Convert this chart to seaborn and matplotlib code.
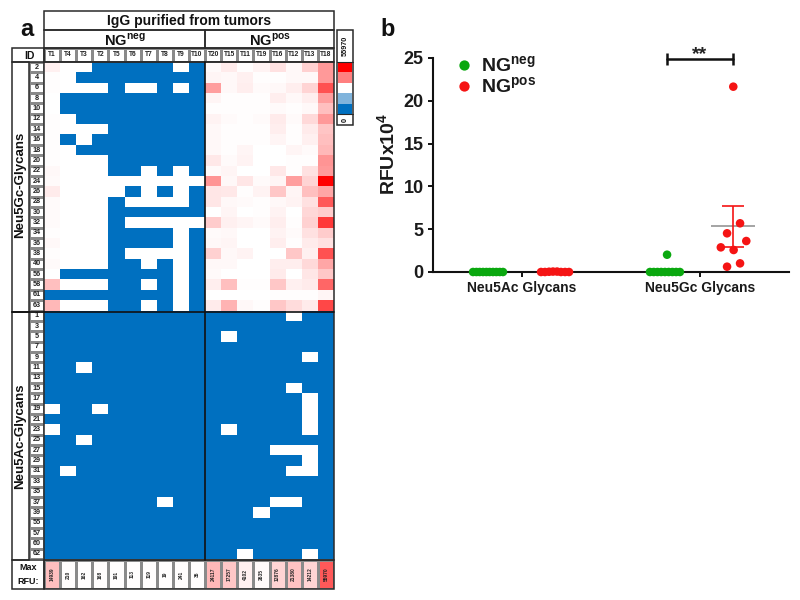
"""
Glycan array heatmap (a) and RFU dot plot (b)
"""
import numpy as np
import pandas as pd
import matplotlib.pyplot as plt
import seaborn as sns
from matplotlib.colors import LinearSegmentedColormap, ListedColormap
from matplotlib.patches import Rectangle


# -----------------------------
# Data
# -----------------------------

B = np.nan  # below threshold, drawn blue

neg_tumors = ["T1", "T4", "T3", "T2", "T5", "T6", "T7", "T8", "T9", "T10"]
pos_tumors = ["T20", "T15", "T11", "T19", "T16", "T12", "T13", "T18"]

gc_ids = [2, 4, 6, 8, 10, 12, 14, 16, 18, 20, 22, 24, 26, 28, 30, 32, 34, 36,
          38, 40, 56, 58, 61, 63]
ac_ids = [1, 3, 5, 7, 9, 11, 13, 15, 17, 19, 21, 23, 25, 27, 29, 31, 33, 35,
          37, 39, 55, 57, 60, 62]

# tint of each cell in percent of full red
gc_neg = [
    [6, 0, 0, B, B, B, B, B, 0, B],
    [1, 0, B, B, B, B, B, B, B, B],
    [1, 0, 0, 0, B, 0, 0, B, 0, B],
    [0, B, B, B, B, B, B, B, B, B],
    [0, B, B, B, B, B, B, B, B, B],
    [1, 0, B, B, B, B, B, B, B, B],
    [1, 0, 0, 0, B, B, B, B, B, B],
    [1, B, 0, B, B, B, B, B, B, B],
    [1, 0, B, B, B, B, B, B, B, B],
    [1, 0, 0, 0, B, B, B, B, B, B],
    [3, 0, 0, 0, B, B, 0, B, 0, B],
    [2, 0, 0, 0, 0, 0, 0, 0, 0, 0],
    [8, 0, 0, 0, 0, B, 0, B, 0, B],
    [2, 0, 0, 0, B, 0, 0, 0, 0, B],
    [2, 0, 0, 0, B, B, B, B, B, B],
    [2, 0, 0, 0, B, 0, 0, 0, 0, 0],
    [1, 0, 0, 0, B, B, B, B, 0, B],
    [3, 0, 0, 0, B, B, B, B, 0, B],
    [1, 0, 0, 0, B, 0, 0, 0, 0, B],
    [2, 0, 0, 0, B, B, 0, B, 0, B],
    [0, B, B, B, B, B, B, B, 0, B],
    [25, 0, 0, 0, B, B, 0, B, 0, B],
    [B, B, B, B, B, B, B, B, 0, B],
    [28, 0, 0, 0, B, B, 0, B, 0, B],
]
gc_pos = [
    [2, 8, 1, 5, 12, 3, 18, 40],
    [4, 3, 6, 1, 1, 3, 3, 40],
    [38, 3, 7, 2, 3, 7, 17, 68],
    [4, 1, 1, 1, 7, 3, 7, 38],
    [1, 1, 1, 1, 2, 1, 3, 25],
    [5, 2, 1, 2, 8, 2, 15, 40],
    [3, 1, 1, 1, 7, 1, 8, 23],
    [3, 1, 1, 1, 4, 1, 6, 25],
    [3, 1, 4, 0, 0, 4, 2, 28],
    [9, 2, 5, 0, 0, 1, 1, 42],
    [2, 4, 0, 0, 9, 1, 12, 40],
    [42, 3, 10, 2, 4, 38, 17, 100],
    [10, 9, 1, 5, 22, 4, 25, 35],
    [10, 3, 2, 1, 3, 5, 12, 65],
    [0, 4, 0, 1, 5, 0, 16, 20],
    [20, 6, 4, 2, 7, 1, 18, 78],
    [2, 3, 0, 0, 5, 2, 12, 20],
    [3, 4, 0, 0, 7, 1, 8, 12],
    [18, 3, 5, 0, 0, 22, 6, 68],
    [3, 3, 0, 0, 7, 7, 15, 35],
    [2, 0, 0, 0, 8, 0, 10, 22],
    [7, 25, 1, 1, 22, 6, 8, 60],
    [0, 0, 0, 0, 1, 1, 1, 4],
    [8, 30, 3, 1, 22, 14, 8, 72],
]

# Neu5Ac rows are blue apart from these white cells
ac_white = {
    1: ["T12"], 5: ["T15"], 9: ["T13"], 11: ["T3"], 15: ["T12"], 17: ["T13"],
    19: ["T1", "T2", "T13"], 21: ["T13"], 23: ["T1", "T15", "T13"], 25: ["T3"],
    27: ["T16", "T12", "T13"], 29: ["T13"], 31: ["T4", "T12", "T13"],
    37: ["T8", "T16", "T12"], 39: ["T19"], 62: ["T11", "T13"],
}

max_rfu = [14939, 210, 162, 168, 191, 113, 119, 19, 241, 35,
           24117, 17257, 4102, 2635, 12876, 21380, 14212, 55970]
max_rfu_tint = [25, 1, 1, 1, 1, 1, 1, 1, 1, 1, 28, 22, 6, 2, 17, 24, 17, 65]

scale_colors = ["#ff0000", "#ff8080", "#ffffff", "#80b4dc", "#0070c0"]

# panel b, x in category units (0 = Neu5Ac, 1 = Neu5Gc)
ac_neg_x = [-0.275, -0.256, -0.238, -0.219, -0.200, -0.182, -0.163, -0.144, -0.125, -0.107]
ac_neg_y = [0, 0, 0, 0, 0, 0, 0, 0, 0, 0]
ac_pos_x = [0.107, 0.129, 0.152, 0.174, 0.197, 0.219, 0.242, 0.264]
ac_pos_y = [0, 0, 0.03, 0.05, 0.05, 0, 0, 0]
gc_neg_x = [-0.281, -0.260, -0.239, -0.218, -0.197, -0.176, -0.155, -0.134, -0.113, -0.185]
gc_neg_y = [0, 0, 0, 0, 0, 0, 0, 0, 0, 2.02]
gc_pos_x = [0.187, 0.225, 0.152, 0.260, 0.117, 0.189, 0.225, 0.152]
gc_pos_y = [21.65, 5.69, 4.52, 3.62, 2.88, 2.57, 1.01, 0.62]

gc_mean = 5.34
gc_err = 2.41

GREEN = "#0aa80f"
RED = "#f51414"
BLUE = "#0070c0"
EDGE = "#2a2a2a"
W, H = 800, 600


def px_axes(fig, left, top, right, bottom, **kwargs):
    # axes placed by reference pixels
    return fig.add_axes([left / W, 1 - bottom / H, (right - left) / W, (bottom - top) / H], **kwargs)


def label_cells(fig, box, labels, size, rotation=0, values=None, cmap=None):
    # a grid of bordered cells holding text
    shape = labels.shape
    ax = px_axes(fig, *box)
    sns.heatmap(
        np.zeros(shape) if values is None else values,
        cmap=cmap if cmap is not None else ListedColormap(["white"]),
        vmin=0, vmax=100, cbar=False,
        annot=labels, fmt="",
        annot_kws={"size": size, "weight": "bold", "color": "#222222", "rotation": rotation},
        linewidths=0.9, linecolor="#8a8a8a",
        xticklabels=False, yticklabels=False, ax=ax,
    )
    return ax


# -----------------------------
# Panel a
# -----------------------------

def make_heatmap(fig):
    tumors = neg_tumors + pos_tumors

    ac_rows = []
    for gid in ac_ids:
        white = ac_white.get(gid, [])
        ac_rows.append([0 if t in white else B for t in tumors])

    matrix = np.vstack([np.hstack([gc_neg, gc_pos]), ac_rows])

    cmap = LinearSegmentedColormap.from_list("rfu", ["#ffffff", "#ff0000"])
    cmap.set_bad(BLUE)

    ax = px_axes(fig, 44, 62, 334, 559)
    sns.heatmap(matrix, cmap=cmap, vmin=0, vmax=100, cbar=False,
                xticklabels=False, yticklabels=False, ax=ax)

    # column names and row ids
    label_cells(fig, (44, 48, 334, 62), np.array([tumors]), 4.8)
    ids = np.array([[str(i)] for i in gc_ids + ac_ids])
    label_cells(fig, (29, 62, 44, 559), ids, 5.2)

    # max RFU row
    label_cells(fig, (44, 560, 334, 589), np.array([[str(v) for v in max_rfu]]), 3.5,
                rotation=90, values=np.array([max_rfu_tint]), cmap=cmap)

    # colour scale
    scale = px_axes(fig, 338, 62, 352, 114)
    sns.heatmap(np.arange(5).reshape(-1, 1), cmap=ListedColormap(scale_colors), cbar=False,
                xticklabels=False, yticklabels=False, ax=scale)

    # frame, group names and headers
    over = px_axes(fig, 0, 0, W, H, zorder=10)
    over.set_xlim(0, W)
    over.set_ylim(H, 0)
    over.axis("off")
    over.patch.set_alpha(0)

    for x, y, w, h in [(44, 11, 290, 19), (44, 30, 161, 18), (205, 30, 129, 18),
                       (12, 48, 32, 14), (44, 48, 290, 14), (12, 62, 17, 250),
                       (12, 312, 17, 248), (12, 560, 32, 29), (44, 560, 290, 29),
                       (44, 62, 290, 498), (337, 30, 16, 95)]:
        over.add_patch(Rectangle((x, y), w, h, fill=False, ec=EDGE, lw=1.1))
    over.plot([205, 205], [62, 560], color="#111111", lw=1.2)
    over.plot([12, 334], [312, 312], color="#111111", lw=1.2)
    over.plot([337, 353], [62, 62], color=EDGE, lw=0.8)
    over.plot([337, 353], [114, 114], color=EDGE, lw=0.8)

    bold = {"weight": "bold", "ha": "center", "va": "center", "color": "#111111"}
    over.text(27, 29, "a", fontsize=17, **bold)
    over.text(388, 29, "b", fontsize=17, **bold)
    over.text(189, 21, "IgG purified from tumors", fontsize=10, **bold)
    over.text(125, 40, r"NG$^{\mathbf{neg}}$", fontsize=10.5, **bold)
    over.text(270, 40, r"NG$^{\mathbf{pos}}$", fontsize=10.5, **bold)
    over.text(29, 56, "ID", fontsize=7.5, **bold)
    over.text(20, 185, "Neu5Gc-Glycans", fontsize=9.5, rotation=90, **bold)
    over.text(20, 436, "Neu5Ac-Glycans", fontsize=9.5, rotation=90, **bold)
    over.text(28, 568, "Max", fontsize=6.5, **bold)
    over.text(28, 582, "RFU:", fontsize=6.5, **bold)
    over.text(345, 46, "55970", fontsize=5.2, rotation=90, **bold)
    over.text(345, 120, "0", fontsize=5.2, rotation=90, **bold)


# -----------------------------
# Panel b
# -----------------------------

def make_dots(fig):
    neg_name = r"NG$^{\mathbf{neg}}$"
    pos_name = r"NG$^{\mathbf{pos}}$"
    df = pd.concat([
        pd.DataFrame({"x": ac_neg_x, "rfu": ac_neg_y, "group": neg_name}),
        pd.DataFrame({"x": ac_pos_x, "rfu": ac_pos_y, "group": pos_name}),
        pd.DataFrame({"x": [1 + v for v in gc_neg_x], "rfu": gc_neg_y, "group": neg_name}),
        pd.DataFrame({"x": [1 + v for v in gc_pos_x], "rfu": gc_pos_y, "group": pos_name}),
    ])

    ax = px_axes(fig, 433, 58, 789, 272)
    sns.scatterplot(
        data=df, x="x", y="rfu", hue="group",
        palette={neg_name: GREEN, pos_name: RED},
        s=38, linewidth=0, clip_on=False, zorder=4, ax=ax,
    )

    # mean and error bar of the NGpos Neu5Gc group
    ax.hlines(gc_mean, 1.063, 1.31, color="#8c8c8c", lw=1.1, zorder=3)
    ax.errorbar(1.187, gc_mean, yerr=gc_err, color=RED, lw=1.2, capsize=8, capthick=1.2, zorder=3)

    # significance bracket
    ax.plot([0.815, 1.187], [24.9, 24.9], color="#111111", lw=1.8, marker="|",
            ms=9, mew=1.8, clip_on=False)
    ax.text(1.0, 24.4, "**", fontsize=14, weight="bold", ha="center", va="bottom",
            color="#222222")

    ax.set_xlim(-0.5, 1.5)
    ax.set_ylim(0, 25)
    ax.set_xticks([0, 1])
    ax.set_xticklabels(["Neu5Ac Glycans", "Neu5Gc Glycans"], fontsize=10, weight="bold")
    ax.set_yticks([0, 5, 10, 15, 20, 25])
    ax.set_yticklabels([0, 5, 10, 15, 20, 25], fontsize=13, weight="bold")
    ax.tick_params(axis="both", length=3.8, width=1.4, left=True, bottom=True, color="#111111",
                   labelcolor="#1a1a1a", pad=3)
    ax.set_xlabel("")
    ax.set_ylabel(r"RFUx10$^{\mathbf{4}}$", fontsize=14, weight="bold", color="#1a1a1a")
    ax.yaxis.set_label_coords(-0.095, 0.55)

    sns.despine(ax=ax)
    ax.spines["left"].set_linewidth(1.5)
    ax.spines["bottom"].set_linewidth(1.5)
    ax.spines["left"].set_color("#111111")
    ax.spines["bottom"].set_color("#111111")

    leg = ax.legend(loc="upper left", bbox_to_anchor=(0.012, 1.095), frameon=False,
                    prop={"size": 14, "weight": "bold"}, handlelength=1.0, handletextpad=0.35,
                    labelspacing=0.0, markerscale=1.2)
    for text in leg.get_texts():
        text.set_color("#1a1a1a")


# -----------------------------
# Main
# -----------------------------

def main():
    sns.set_theme(style="white")
    plt.rcParams["font.family"] = ["Liberation Sans", "DejaVu Sans"]
    plt.rcParams["mathtext.fontset"] = "custom"
    plt.rcParams["mathtext.bf"] = "Liberation Sans:bold"
    plt.rcParams["mathtext.rm"] = "Liberation Sans:bold"

    fig = plt.figure(figsize=(8, 6), dpi=100)

    make_heatmap(fig)
    make_dots(fig)

    fig.savefig("out.png", dpi=100)


if __name__ == "__main__":
    main()
